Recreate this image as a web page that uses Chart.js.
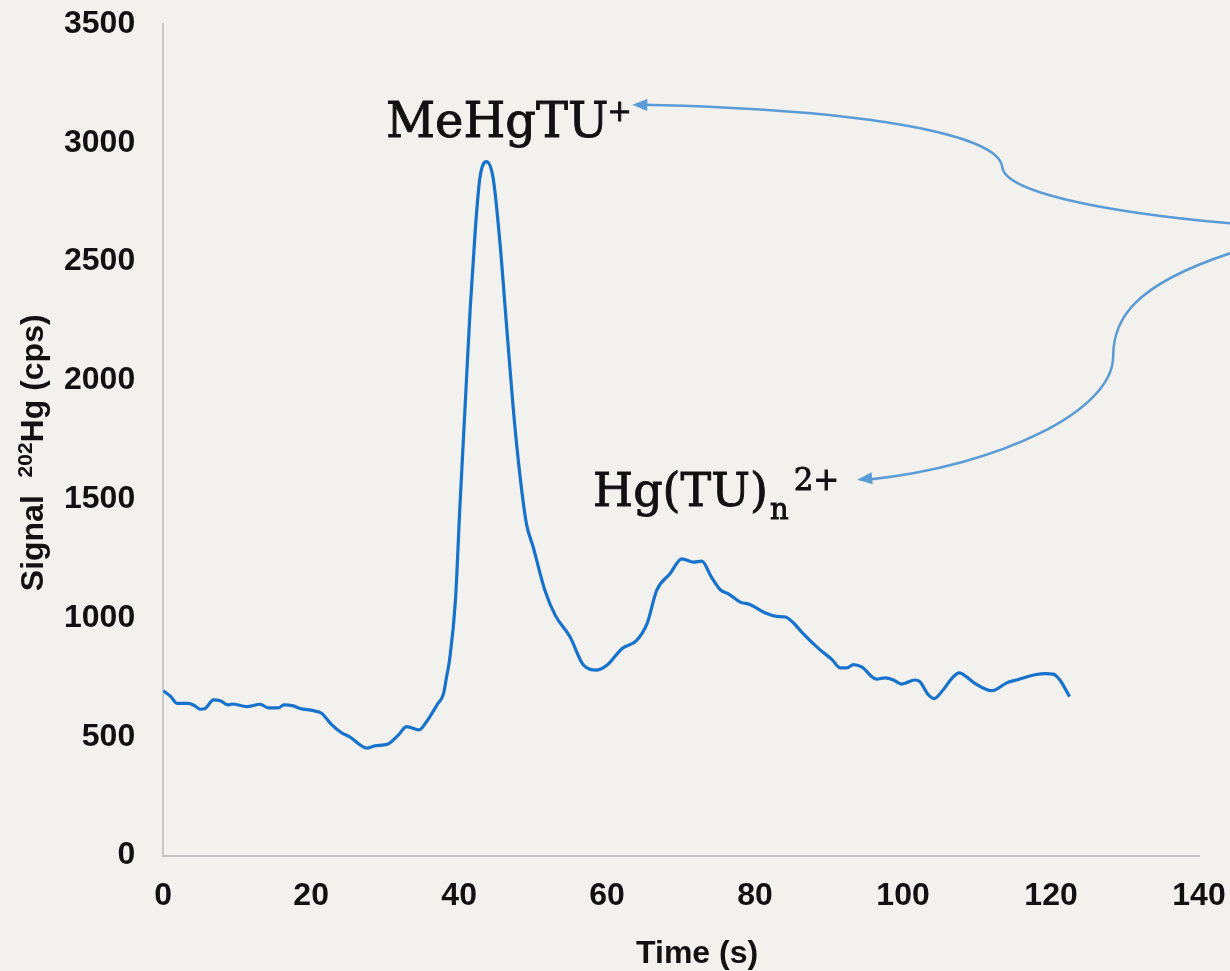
<!DOCTYPE html>
<html>
<head>
<meta charset="utf-8">
<title>MeHgTU+ / Hg(TU)n2+ signal</title>
<script src="https://cdn.jsdelivr.net/npm/chart.js@4.4.1/dist/chart.umd.min.js"></script>
<style>
  html, body { margin: 0; padding: 0; background: #f2f1ee; }
  #chart { display: block; }
</style>
</head>
<body>
<canvas id="chart" width="1230" height="971"></canvas>
<script>
// ---- data (time in s, signal in cps) ----
const timeS = [
  0, 1.0, 1.85, 3.4, 4.3, 5.0, 5.7, 6.8, 7.7, 8.8, 9.3, 11.3, 13.1, 14.2, 15.6, 16.3,
  17.6, 18.5, 20.3, 21.4, 22.8, 24.1, 25.3, 26.6, 27.5, 28.6, 30.4, 31.8, 32.9, 34.6,
  35.6, 37.0, 37.9, 38.3, 38.7, 39.5, 40.1, 40.8, 41.5, 42.2, 42.8, 43.7, 44.6, 45.5,
  46.4, 47.3, 48.2, 49.1, 50.0, 51.6, 53.0, 55.0, 56.8, 58.6, 60.0, 62.0, 64.0, 65.4,
  66.7, 68.5, 70.1, 71.7, 72.8, 74.1, 75.3, 76.4, 78.0, 79.3, 81.4, 82.9, 84.1, 85.2,
  86.3, 88.6, 90.4, 91.5, 92.4, 93.3, 94.4, 96.4, 97.6, 98.7, 99.8, 101.6, 102.3,
  103.4, 104.2, 105.4, 106.6, 107.6, 108.6, 109.7, 112.0, 114.0, 115.3, 116.7, 118.0,
  119.2, 120.3, 121.2, 122.5
];
const signal = [
  694, 670, 641, 641, 630, 616, 620, 655, 652, 634, 638, 627, 637, 622, 622, 634,
  630, 619, 610, 599, 550, 517, 498, 466, 452, 462, 470, 508, 543, 529,
  564, 634, 683, 752, 822, 1074, 1466, 1886, 2305, 2641, 2851, 2921, 2851, 2585,
  2235, 1886, 1606, 1396, 1300, 1116, 1011, 920, 802, 781, 802, 871, 906, 976,
  1116, 1186, 1249, 1235, 1239, 1172, 1119, 1102, 1067, 1057, 1021, 1007, 1004, 979,
  941, 871, 825, 790, 790, 804, 794, 743, 748, 739, 722, 739, 731,
  678, 661, 697, 746, 769, 752, 725, 694, 727, 739, 752, 762,
  766, 764, 739, 669
];

const xTicks = [0, 20, 40, 60, 80, 100, 120, 140];
const yTicks = [0, 500, 1000, 1500, 2000, 2500, 3000, 3500];

// peak labels and their brace arrows, in data units (s, cps)
const peakLabels = [
  { main: 'MeHgTU', sub: '', sup: '+', at: [30.1, 3024], size: 48, supScale: 0.6, supGap: -1 },
  { main: 'Hg(TU)', sub: 'n', sup: '2+', at: [58.1, 1473], size: 46, supScale: 0.68, supGap: 3 }
];
// each arrow: start, [c1, c2, cusp], [c1, c2, tip]
const braceArrows = [
  [[144.2, 2661], [[126.6, 2710], [113.6, 2795], [113.4, 2900]], [[112.8, 3026], [96.9, 3139], [63.4, 3160]]],
  [[144.2, 2535], [[130.7, 2396], [128.4, 2249], [128.4, 2102]], [[128.4, 1872], [113.1, 1641], [93.8, 1582]]]
];

const SANS = "'Liberation Sans', Arial, sans-serif";
const SERIF = "'DejaVu Serif', serif";
const INK = '#111111';
const ARROW = '#5b9bd5';

const pagePlugin = {
  id: 'page',
  beforeDraw(chart) {
    const ctx = chart.ctx;
    ctx.save();
    ctx.fillStyle = '#f2f1ee';
    ctx.fillRect(0, 0, chart.width, chart.height);
    ctx.restore();
  },
  afterDraw(chart) {
    const ctx = chart.ctx;
    const area = chart.chartArea;
    const xs = chart.scales.x, ys = chart.scales.y;
    const P = (p) => [xs.getPixelForValue(p[0]), ys.getPixelForValue(p[1])];

    // brace arrows
    ctx.save();
    ctx.strokeStyle = ARROW;
    ctx.fillStyle = ARROW;
    ctx.lineWidth = 2.5;
    braceArrows.forEach(a => {
      const s = P(a[0]);
      const b1 = a[1].map(P), b2 = a[2].map(P);
      ctx.beginPath();
      ctx.moveTo(s[0], s[1]);
      ctx.bezierCurveTo(b1[0][0], b1[0][1], b1[1][0], b1[1][1], b1[2][0], b1[2][1]);
      ctx.bezierCurveTo(b2[0][0], b2[0][1], b2[1][0], b2[1][1], b2[2][0] + 10, b2[2][1]);
      ctx.stroke();
      // arrow head
      const tip = b2[2];
      const ang = Math.atan2(tip[1] - b2[1][1], tip[0] - b2[1][0]);
      ctx.beginPath();
      ctx.moveTo(tip[0], tip[1]);
      ctx.lineTo(tip[0] - 15 * Math.cos(ang) + 6 * Math.sin(ang), tip[1] - 15 * Math.sin(ang) - 6 * Math.cos(ang));
      ctx.lineTo(tip[0] - 15 * Math.cos(ang) - 6 * Math.sin(ang), tip[1] - 15 * Math.sin(ang) + 6 * Math.cos(ang));
      ctx.closePath();
      ctx.fill();
    });
    ctx.restore();

    // peak labels
    ctx.save();
    ctx.fillStyle = INK;
    ctx.strokeStyle = INK;
    ctx.lineWidth = 0.9;
    ctx.textBaseline = 'alphabetic';
    ctx.textAlign = 'left';
    const put = (t, x, y) => { ctx.fillText(t, x, y); ctx.strokeText(t, x, y); };
    peakLabels.forEach(l => {
      let [x, y] = P(l.at);
      ctx.font = `${l.size}px ${SERIF}`;
      put(l.main, x, y);
      x += ctx.measureText(l.main).width;
      if (l.sub) {
        ctx.font = `${Math.round(l.size * 0.62)}px ${SERIF}`;
        put(l.sub, x + 2, y + 13);
        x += ctx.measureText(l.sub).width + 4;
      }
      ctx.font = `${Math.round(l.size * l.supScale)}px ${SERIF}`;
      put(l.sup, x + l.supGap, y - 16);
    });
    ctx.restore();

    // x axis title (sits a little right of the axis centre, as in the source)
    ctx.save();
    ctx.fillStyle = INK;
    ctx.font = `bold 32px ${SANS}`;
    ctx.textAlign = 'center';
    ctx.textBaseline = 'middle';
    ctx.fillText('Time (s)', (area.left + area.right) / 2 + 16, area.bottom + 99);
    ctx.restore();

    // y axis title with superscript mass number
    ctx.save();
    const cy = (area.top + area.bottom) / 2 + 13;
    ctx.translate(34, cy);
    ctx.rotate(-Math.PI / 2);
    ctx.fillStyle = INK;
    ctx.textBaseline = 'middle';
    ctx.textAlign = 'left';
    const parts = [
      { t: 'Signal  ', f: `bold 32px ${SANS}`, dy: 0 },
      { t: '202', f: `bold 21px ${SANS}`, dy: -8 },
      { t: 'Hg (cps)', f: `bold 32px ${SANS}`, dy: 0 }
    ];
    let total = 0;
    parts.forEach(p => { ctx.font = p.f; total += ctx.measureText(p.t).width; });
    let x0 = -total / 2;
    parts.forEach(p => {
      ctx.font = p.f;
      ctx.fillText(p.t, x0, p.dy);
      x0 += ctx.measureText(p.t).width;
    });
    ctx.restore();
  }
};

// invisible tick marks: they only set the gap between labels and axis line
const hiddenGrid = (len) => ({
  display: true,
  drawOnChartArea: false,
  drawTicks: true,
  tickLength: len,
  color: 'rgba(0,0,0,0)'
});

new Chart(document.getElementById('chart'), {
  type: 'line',
  data: {
    datasets: [{
      label: 'Signal',
      data: timeS.map((t, i) => ({ x: t, y: signal[i] })),
      borderColor: '#1772cc',
      borderWidth: 3.2,
      pointRadius: 0,
      fill: false,
      cubicInterpolationMode: 'monotone'
    }]
  },
  options: {
    responsive: false,
    animation: false,
    // bottom padding leaves room for the hand-drawn x title
    layout: { padding: { left: 64, top: 24, right: 31, bottom: 56 } },
    plugins: {
      legend: { display: false },
      tooltip: { enabled: false }
    },
    scales: {
      x: {
        type: 'linear',
        min: 0,
        max: 140,
        afterBuildTicks: (s) => { s.ticks = xTicks.map(v => ({ value: v })); },
        grid: hiddenGrid(21),
        border: { display: true, color: '#c4c4c4', width: 2 },
        ticks: {
          padding: 0,
          color: INK,
          callback: (v) => String(v),
          font: { family: SANS, size: 32, weight: 'bold' }
        }
      },
      y: {
        min: 0,
        max: 3500,
        afterBuildTicks: (s) => { s.ticks = yTicks.map(v => ({ value: v })); },
        grid: hiddenGrid(28),
        border: { display: true, color: '#c8c8c8', width: 2 },
        ticks: {
          padding: 0,
          color: INK,
          callback: (v) => String(v),
          font: { family: SANS, size: 32, weight: 'bold' }
        }
      }
    }
  },
  plugins: [pagePlugin]
});
</script>
</body>
</html>
